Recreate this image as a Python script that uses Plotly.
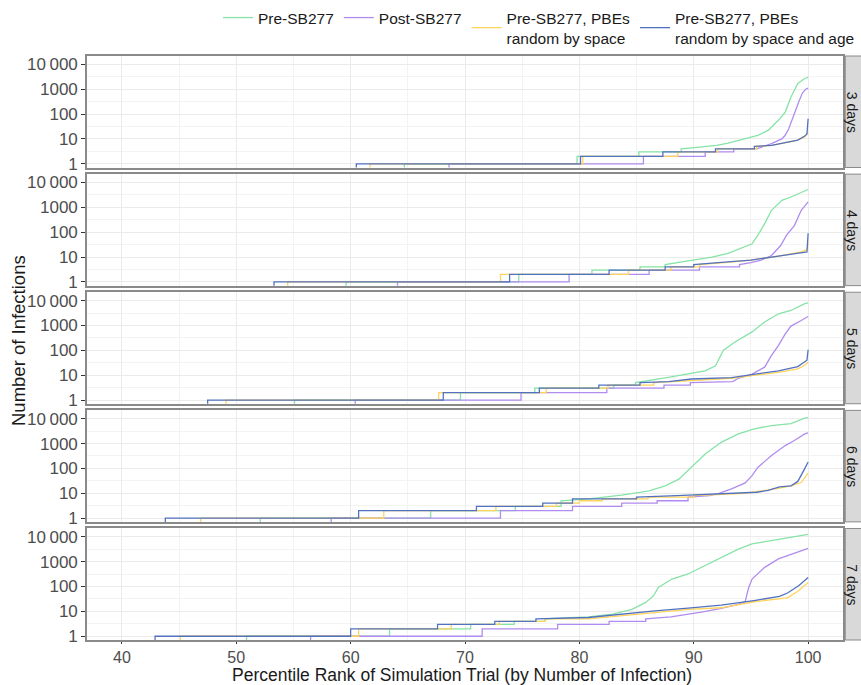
import plotly.graph_objects as go
from plotly.subplots import make_subplots

# ---------------- data ----------------
DAYS = ["3 days", "4 days", "5 days", "6 days", "7 days"]
SERIES = ["Pre-SB277", "Post-SB277", "Pre-SB277, PBEs<br>random by space",
          "Pre-SB277, PBEs<br>random by space and age"]
COLORS = ["#86E3A6", "#B08CF0", "#FFD35C", "#5272C0"]

Y_TICKS = [1, 10, 100, 1000, 10000]
Y_TICK_TEXT = ["1", "10", "100", "1000", "10\u2009000"]
X_TICKS = [40, 50, 60, 70, 80, 90, 100]

# 0 infections (log = -Inf) is drawn below the panel floor, as ggplot does
ZERO_FLOOR = 0.5

# 3 days
pre_3_pct = [64.7, 64.7, 79.8, 79.8, 85.2, 85.2, 88.9, 88.9, 90.5, 92.0, 93.0, 94.5, 95.6, 96.5, 97.4, 98.0, 98.5, 99.1, 99.7, 100]
pre_3_inf = [0, 1, 1, 2, 2, 3, 3, 4, 4.7, 5.5, 6.8, 10, 14, 22, 56, 120, 490, 1700, 2700, 3000]
post_3_pct = [68.6, 68.6, 85.6, 85.6, 91.0, 91.0, 93.5, 93.5, 95.5, 96.2, 96.8, 97.7, 98.0, 98.3, 98.6, 98.9, 99.2, 99.5, 99.8, 100]
post_3_inf = [0, 1, 1, 2, 2, 3, 3, 4, 4, 5, 6.5, 10, 14, 25, 60, 150, 330, 700, 1000, 1100]
space_3_pct = [61.7, 61.7, 80.3, 80.3, 88.6, 88.6, 92.1, 92.1, 95.5, 95.5, 96.8, 98.0, 99.1, 99.7, 100]
space_3_inf = [0, 1, 1, 2, 2, 3, 3, 4, 4, 5, 5.5, 7, 9, 12, 18]
age_3_pct = [60.5, 60.5, 80.1, 80.1, 87.3, 87.3, 91.9, 91.9, 95.3, 95.3, 96.8, 98.0, 99.1, 99.7, 99.9, 100]
age_3_inf = [0, 1, 1, 2, 2, 3, 3, 4, 4, 5, 5.5, 7, 9, 13, 16, 65]

# 4 days
pre_4_pct = [59.6, 59.6, 74.7, 74.7, 81.1, 81.1, 85.3, 85.3, 87.5, 87.5, 89.5, 91.6, 93.0, 93.9, 95.1, 95.6, 96.2, 96.8, 97.7, 98.5, 99.4, 100]
pre_4_inf = [0, 1, 1, 2, 2, 3, 3, 4, 4, 5, 7, 10, 14, 20, 34, 74, 220, 760, 1900, 2600, 4100, 5200]
post_4_pct = [64.1, 64.1, 79.1, 79.1, 86.1, 86.1, 90.5, 90.5, 94.0, 94.0, 95.0, 95.9, 96.8, 97.6, 98.1, 98.8, 99.4, 100]
post_4_inf = [0, 1, 1, 2, 2, 3, 3, 4, 4, 5, 6, 7.6, 11.5, 29, 74, 185, 760, 1650]
space_4_pct = [54.5, 54.5, 73.1, 73.1, 84.3, 84.3, 88.0, 88.0, 90.5, 90.5, 92.7, 95.0, 97.4, 99.4, 99.9, 100]
space_4_inf = [0, 1, 1, 2, 2, 3, 3, 4, 4, 5, 6, 7.5, 11, 16, 20, 40]
age_4_pct = [53.3, 53.3, 73.9, 73.9, 82.6, 82.6, 87.5, 87.5, 90.0, 90.0, 92.7, 95.0, 97.4, 99.4, 99.9, 100]
age_4_inf = [0, 1, 1, 2, 2, 3, 3, 4, 4, 5, 6.3, 7.5, 11, 15, 16, 90]

# 5 days
pre_5_pct = [55.1, 55.1, 69.6, 69.6, 76.1, 76.1, 83.0, 83.0, 84.9, 84.9, 87.5, 89.2, 91.0, 91.9, 92.6, 93.6, 95.1, 96.2, 97.4, 98.5, 99.7, 100]
pre_5_inf = [0, 1, 1, 2, 2, 3, 3, 4, 4, 5, 7.8, 11, 15, 24, 100, 215, 550, 1380, 2950, 4000, 7500, 8000]
post_5_pct = [60.4, 60.4, 74.9, 74.9, 82.4, 82.4, 87.4, 87.4, 89.7, 89.7, 93.4, 93.9, 95.1, 96.2, 96.8, 97.4, 98.0, 98.5, 99.4, 100]
post_5_inf = [0, 1, 1, 2, 2, 3, 3, 4, 4, 5, 5.5, 7.5, 11, 21, 62, 155, 460, 940, 1580, 2300]
space_5_pct = [49.1, 49.1, 67.7, 67.7, 77.1, 77.1, 82.5, 82.5, 86.5, 86.5, 89.8, 93.3, 95.4, 97.4, 99.1, 99.7, 100]
space_5_inf = [0, 1, 1, 2, 2, 3, 3, 4, 4, 5, 6, 7.5, 10, 13, 18, 25, 33]
age_5_pct = [47.5, 47.5, 68.1, 68.1, 76.5, 76.5, 81.7, 81.7, 85.3, 85.3, 87.8, 89.8, 93.3, 95.4, 97.4, 99.1, 99.6, 99.9, 100]
age_5_inf = [0, 1, 1, 2, 2, 3, 3, 4, 4, 5, 5.5, 7, 8, 11, 15, 22, 33, 40, 105]

# 6 days
pre_6_pct = [52.1, 52.1, 67.0, 67.0, 74.4, 74.4, 78.4, 78.4, 80.8, 83.7, 86.1, 87.5, 88.7, 89.8, 91.0, 92.4, 93.9, 95.3, 96.8, 98.5, 99.7, 100]
pre_6_inf = [0, 1, 1, 2, 2, 3, 3, 5, 6, 8.5, 12.5, 20, 37, 110, 380, 1120, 2450, 3900, 5300, 6300, 10500, 11000]
post_6_pct = [58.3, 58.3, 73.1, 73.1, 79.4, 79.4, 83.7, 83.7, 86.8, 86.8, 89.5, 89.5, 91.4, 92.2, 93.3, 94.5, 95.1, 95.6, 96.8, 98.0, 98.8, 99.7, 100]
post_6_inf = [0, 1, 1, 2, 2, 3, 3, 4, 4, 5, 5, 7, 8, 10, 15, 26, 51, 110, 330, 830, 1320, 2450, 2700]
space_6_pct = [46.9, 46.9, 62.9, 62.9, 72.7, 72.7, 78.0, 78.0, 80.0, 80.0, 82.0, 82.0, 86.0, 86.0, 90.0, 90.0, 92.5, 94.5, 97.5, 98.5, 99.4, 100]
space_6_inf = [0, 1, 1, 2, 2, 3, 3, 4, 4, 5, 5, 6, 6, 7, 7, 8, 9, 10, 16, 20, 27, 65]
age_6_pct = [43.8, 43.8, 60.7, 60.7, 71.0, 71.0, 76.8, 76.8, 79.4, 79.4, 85.0, 85.0, 88.5, 91.5, 93.5, 95.5, 96.5, 97.5, 98.5, 99.1, 99.6, 100]
age_6_inf = [0, 1, 1, 2, 2, 3, 3, 4, 4, 6, 6, 7, 8, 9, 10, 11, 13, 18, 20, 30, 80, 180]

# 7 days
pre_7_pct = [50.9, 50.9, 63.4, 63.4, 70.5, 70.5, 74.3, 74.3, 77.0, 77.0, 78.7, 80.8, 82.9, 84.6, 85.8, 86.5, 86.9, 88.1, 89.5, 91.0, 92.4, 93.9, 95.1, 96.8, 98.5, 99.7, 100]
pre_7_inf = [0, 1, 1, 2, 2, 3, 3, 4, 4, 5, 5.5, 6, 7.8, 12, 23, 43, 92, 200, 320, 700, 1500, 3200, 5200, 7100, 9100, 12000, 12500]
post_7_pct = [56.5, 56.5, 71.5, 71.5, 78.1, 78.1, 82.6, 82.6, 85.8, 85.8, 88.0, 89.5, 90.8, 92.3, 93.9, 94.5, 94.8, 95.1, 96.2, 97.4, 98.5, 99.7, 100]
post_7_inf = [0, 1, 1, 2, 2, 3, 3, 4, 4, 5, 6, 7.5, 9.5, 13, 19, 25, 90, 200, 590, 1300, 2000, 3200, 3400]
space_7_pct = [45.1, 45.1, 60.7, 60.7, 68.8, 68.8, 73.0, 73.0, 77.0, 77.0, 80.8, 83.7, 86.6, 89.5, 92.4, 95.4, 98.2, 99.1, 100]
space_7_inf = [0, 1, 1, 2, 2, 3, 3, 4, 4, 5, 5, 6.5, 9, 12, 14, 25, 35, 65, 145]
age_7_pct = [42.9, 42.9, 60.0, 60.0, 67.6, 67.6, 72.6, 72.6, 76.2, 76.2, 80.8, 83.7, 86.6, 89.5, 92.4, 95.4, 97.5, 98.2, 99.2, 100]
age_7_inf = [0, 1, 1, 2, 2, 3, 3, 4, 4, 5, 5.7, 7.8, 10.5, 13.5, 18, 28, 40, 55, 110, 230]

PANELS = [
    [(pre_3_pct, pre_3_inf), (post_3_pct, post_3_inf), (space_3_pct, space_3_inf), (age_3_pct, age_3_inf)],
    [(pre_4_pct, pre_4_inf), (post_4_pct, post_4_inf), (space_4_pct, space_4_inf), (age_4_pct, age_4_inf)],
    [(pre_5_pct, pre_5_inf), (post_5_pct, post_5_inf), (space_5_pct, space_5_inf), (age_5_pct, age_5_inf)],
    [(pre_6_pct, pre_6_inf), (post_6_pct, post_6_inf), (space_6_pct, space_6_inf), (age_6_pct, age_6_inf)],
    [(pre_7_pct, pre_7_inf), (post_7_pct, post_7_inf), (space_7_pct, space_7_inf), (age_7_pct, age_7_inf)],
]

# ---------------- figure ----------------
FONT = "Liberation Sans, Arial, sans-serif"
W, H = 861, 685
ML, MR, MT, MB = 87, 18, 56, 45
PW = W - ML - MR
PH = H - MT - MB

fig = make_subplots(rows=5, cols=1, shared_xaxes=True, vertical_spacing=6.6 / PH)

for r, series in enumerate(PANELS, start=1):
    for i, (pct, inf) in enumerate(series):
        fig.add_trace(go.Scatter(
            x=pct, y=[v if v > 0 else ZERO_FLOOR for v in inf],
            mode="lines", line=dict(color=COLORS[i], width=1.3),
            name=SERIES[i], legendgroup=SERIES[i], showlegend=(r == 1),
            hoverinfo="skip"), row=r, col=1)

minor_y = [10 ** (k + 0.5) for k in range(0, 4)]
fig.update_yaxes(
    type="log", range=[-0.15, 4.335],
    tickmode="array", tickvals=Y_TICKS, ticktext=Y_TICK_TEXT,
    tickfont=dict(family=FONT, size=17, color="#4D4D4D"),
    ticks="outside", ticklen=4, tickcolor="#333333", tickwidth=1,
    showgrid=True, gridcolor="#EBEBEB", gridwidth=1,
    minor=dict(tickmode="array", tickvals=minor_y, showgrid=True,
               gridcolor="#F3F3F3", gridwidth=1, ticks=""),
    showline=True, mirror=True, linecolor="#8A8A8A", linewidth=1.6,
    zeroline=False,
)
fig.update_xaxes(
    range=[36.95, 103.05], tickmode="array", tickvals=X_TICKS,
    tickfont=dict(family=FONT, size=16, color="#4D4D4D"),
    showgrid=True, gridcolor="#EBEBEB", gridwidth=1,
    minor=dict(tickmode="array", tickvals=[45, 55, 65, 75, 85, 95],
               showgrid=True, gridcolor="#F3F3F3", gridwidth=1, ticks=""),
    showline=True, mirror=True, linecolor="#8A8A8A", linewidth=1.6,
    zeroline=False, ticks="",
)
fig.update_xaxes(ticks="outside", ticklen=2, tickcolor="#333333", tickwidth=1, row=5, col=1)

shapes = []
annotations = []
for r, label in enumerate(DAYS, start=1):
    yref = "y domain" if r == 1 else f"y{r} domain"
    shapes.append(dict(type="rect", xref="paper", yref=yref,
                       x0=1.003, x1=1.06, y0=0, y1=1,
                       fillcolor="#D9D9D9", line=dict(color="#8A8A8A", width=1),
                       layer="below"))
    annotations.append(dict(text=label, xref="paper", yref=yref,
                            x=(852 - ML) / PW, y=0.5, showarrow=False,
                            textangle=90, xanchor="center", yanchor="middle",
                            font=dict(family=FONT, size=14, color="#1A1A1A")))

annotations.append(dict(text="Percentile Rank of Simulation Trial (by Number of Infection)",
                        xref="paper", yref="paper", x=(462 - ML) / PW, y=(H - MB - 675) / PH,
                        showarrow=False, xanchor="center", yanchor="middle",
                        font=dict(family=FONT, size=17.5, color="#1A1A1A")))
annotations.append(dict(text="Number of Infections", xref="paper", yref="paper",
                        x=(18 - ML) / PW, y=(H - MB - 341) / PH, showarrow=False,
                        textangle=-90, xanchor="center", yanchor="middle",
                        font=dict(family=FONT, size=18.5, color="#1A1A1A")))

fig.update_layout(
    width=W, height=H,
    margin=dict(l=ML, r=MR, t=MT, b=MB, autoexpand=False),
    paper_bgcolor="white", plot_bgcolor="white",
    font=dict(family=FONT, color="#1A1A1A"),
    shapes=shapes, annotations=annotations,
    legend=dict(orientation="h", xref="container", yref="container",
                x=860 / W, xanchor="right", y=1 - 1 / H, yanchor="top",
                font=dict(family=FONT, size=15.5, color="#1A1A1A"),
                bgcolor="rgba(0,0,0,0)", itemwidth=30, valign="middle"),
)

fig.write_html("out.html", config={"displayModeBar": False},
               post_script="document.body.style.margin='0';")
